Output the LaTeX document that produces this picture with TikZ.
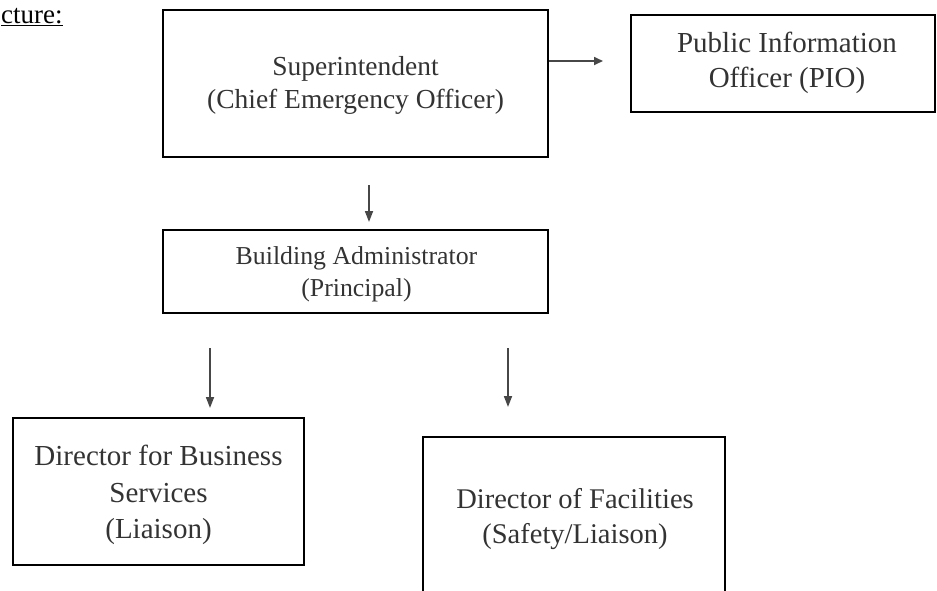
\documentclass[tikz,border=0pt]{standalone}
\usepackage{fontspec}
\setmainfont{Liberation Serif}
\usetikzlibrary{arrows.meta}
\begin{document}
\begin{tikzpicture}[x=1pt,y=-1pt,
  box/.style={draw=black, line width=2pt, inner sep=0pt},
  txt/.style={align=center, inner sep=0pt, text=black!80},
  conn/.style={draw=black!72, line width=1.7pt, -{Triangle[length=11pt,width=8pt]}}]
\useasboundingbox (0,0) rectangle (937,590);
\node[anchor=base west, inner sep=0pt, font=\fontsize{27}{30}\selectfont] (hdr) at (1,23) {\underline{cture:}};
% boxes
\node[box, minimum width=385pt, minimum height=147pt] (sup) at (355.5,83.5) {};
\node[box, minimum width=304pt, minimum height=97pt] (pio) at (783,63.5) {};
\node[box, minimum width=385pt, minimum height=83pt] (adm) at (355.5,271.5) {};
\node[box, minimum width=291pt, minimum height=147pt] (dbs) at (158.5,491.5) {};
\coordinate (dfa) at (574,437);
\draw[line width=2pt] (423,592) -- (423,437) -- (725,437) -- (725,592);
% texts
\node[txt, font=\fontsize{27.5}{33}\selectfont] (supt) at (355.5,85) {Superintendent\\(Chief Emergency Officer)};
\node[txt, font=\fontsize{29}{35}\selectfont] (piot) at (787,63.3) {Public Information\\Officer (PIO)};
\node[txt, font=\fontsize{25.8}{32}\selectfont] (admt) at (356.5,274) {Building Administrator\\(Principal)};
\node[txt, font=\fontsize{29}{36.5}\selectfont] (dbst) at (158.5,495) {Director for Business\\Services\\(Liaison)};
\node[txt, font=\fontsize{28.5}{35}\selectfont] (dfat) at (575,518.6) {Director of Facilities\\(Safety/Liaison)};
% connectors
\coordinate (a1s) at (sup.east |- 0,61);
\coordinate (a1e) at (603,61);
\draw[conn, -{Triangle[length=9pt,width=8pt]}] (a1s) -- (a1e);
\coordinate (a2s) at (369,185);
\coordinate (a2e) at (369,222);
\draw[conn] (a2s) -- (a2e);
\coordinate (a3s) at (210,348);
\coordinate (a3e) at (210,408);
\draw[conn] (a3s) -- (a3e);
\coordinate (a4s) at (508,348);
\coordinate (a4e) at (508,407);
\draw[conn] (a4s) -- (a4e);
\end{tikzpicture}
\end{document}
